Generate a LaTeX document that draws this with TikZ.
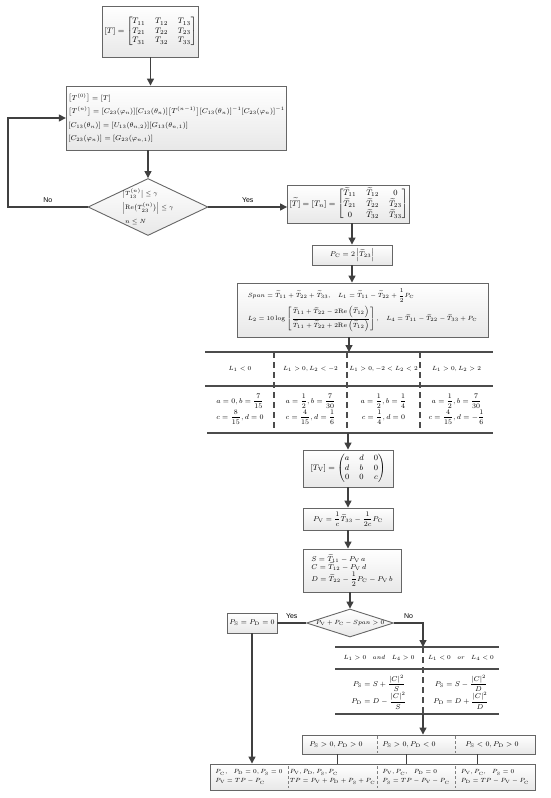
\documentclass[tikz,border=0pt]{standalone}
\usepackage{amsmath}
\usepackage{amssymb}
\usepackage{fontspec}
\newfontfamily\lblfont{Liberation Sans}
\usetikzlibrary{shapes.geometric,arrows.meta}
\newcommand{\tT}[1]{\widetilde{T}_{#1}}
\newcommand{\Pm}[1]{P_{\mathrm{#1}}}

\begin{document}
\begin{tikzpicture}[x=1pt,y=-1pt,font=\scriptsize]
	\tikzstyle{box}=[draw=gray!80!black,line width=0.9pt,top color=white,bottom color=gray!18,inner sep=2pt]
	\tikzstyle{decision}=[draw=gray!80!black,line width=0.9pt,shape=diamond,top color=white,bottom color=gray!18,inner sep=0pt]
	\tikzstyle{arr}=[draw=black!75,line width=1.3pt,-{Triangle[width=7pt,length=7pt]}]
	\tikzstyle{link}=[draw=black!75,line width=1.3pt]
	\tikzstyle{rule}=[draw=black!70,line width=1.1pt]
	\tikzstyle{sep}=[draw=black!70,line width=1.1pt,dash pattern=on 6pt off 4pt]
	\tikzstyle{cellsep}=[draw=gray,line width=0.6pt,dash pattern=on 3pt off 2pt]
	\tikzstyle{lbl}=[font=\lblfont\scriptsize]
	\tikzstyle{small}=[font=\fontsize{6.5}{9}\selectfont]

	\useasboundingbox (0,0) rectangle (550,798);

	\node[box,minimum width=95pt,minimum height=51pt,font=\footnotesize](T) at (150.5,31.5){$[T]=\begin{bmatrix}T_{11}&T_{12}&T_{13}\\T_{21}&T_{22}&T_{23}\\T_{31}&T_{32}&T_{33}\end{bmatrix}$};

	\node[box,minimum width=173pt,minimum height=64pt,align=left,font=\fontsize{6.6}{13.5}\selectfont](iter) at (176.5,118){$\bigl[T^{(0)}\bigr]=[T]$\\
		$\bigl[T^{(n)}\bigr]=[C_{23}(\varphi_n)][C_{13}(\theta_n)]\bigl[T^{(n-1)}\bigr][C_{13}(\theta_n)]^{-1}[C_{23}(\varphi_n)]^{-1}$\\
		$[C_{13}(\theta_n)]=[U_{13}(\theta_{n,2})][G_{13}(\theta_{n,1})]$\\
		$[C_{23}(\varphi_n)]=[G_{23}(\varphi_{n,1})]$};

	\node[decision,minimum width=120pt,minimum height=57pt,label={[align=left,font=\fontsize{6.5}{14}\selectfont]center:{$\bigl|T_{13}^{(n)}\bigr|\le\gamma$\\ $\Bigl|\mathrm{Re}\bigl(T_{23}^{(n)}\bigr)\Bigr|\le\gamma$\\ \ $n\le N$}}](dec1) at (148,207){};

	\node[box,minimum width=111pt,minimum height=38pt,font=\footnotesize](Tn) at (348.5,204){$[\widetilde{T}]=[T_n]=\begin{bmatrix}\tT{11}&\tT{12}&0\\\tT{21}&\tT{22}&\tT{23}\\0&\tT{32}&\tT{33}\end{bmatrix}$};

	\node[box,minimum width=80pt,minimum height=20pt](Pc) at (352,255){$\Pm{C}=2\left|\tT{23}\right|$};

	\node[box,minimum width=251pt,minimum height=54pt,align=left,font=\fontsize{6.4}{9}\selectfont](span) at (362.5,310){$Span=\tT{11}+\tT{22}+\tT{33},\quad L_1=\tT{11}-\tT{22}+\dfrac{1}{2}\Pm{C}$\\[3pt]
		$L_2=10\log\left[\dfrac{\tT{11}+\tT{22}-2\mathrm{Re}\left(\tT{12}\right)}{\tT{11}+\tT{22}+2\mathrm{Re}\left(\tT{12}\right)}\right],\quad L_4=\tT{11}-\tT{22}-\tT{33}+\Pm{C}$};

	\coordinate (tab1top) at (349,352);
	\coordinate (tab1bot) at (348,433);
	\draw[rule] (205,352) -- (493,352);
	\draw[rule] (205,386) -- (493,386);
	\draw[rule] (207,433) -- (493,433);
	\foreach \x in {274,347,420}
		\draw[sep] (\x,352) -- (\x,433);

	\node[small](h1) at (240,369){$L_1<0$};
	\node[small](h2) at (310.5,369){$L_1>0,L_2<-2$};
	\node[small](h3) at (383.5,369){$L_1>0,-2<L_2<2$};
	\node[small](h4) at (456.5,369){$L_1>0,L_2>2$};

	\node[align=center](v1) at (240,409){$a=0,b=\dfrac{7}{15}$\\ $c=\dfrac{8}{15},d=0$};
	\node[align=center](v2) at (310.5,409){$a=\dfrac{1}{2},b=\dfrac{7}{30}$\\ $c=\dfrac{4}{15},d=\dfrac{1}{6}$};
	\node[align=center](v3) at (383.5,409){$a=\dfrac{1}{2},b=\dfrac{1}{4}$\\ $c=\dfrac{1}{4},d=0$};
	\node[align=center](v4) at (456.5,409){$a=\dfrac{1}{2},b=\dfrac{7}{30}$\\ $c=\dfrac{4}{15},d=-\dfrac{1}{6}$};

	\node[box,minimum width=90pt,minimum height=37pt,font=\footnotesize](Tv) at (348,468.5){$[T_{\mathrm{V}}]=\begin{pmatrix}a&d&0\\d&b&0\\0&0&c\end{pmatrix}$};

	\node[box,minimum width=90pt,minimum height=22pt](Pv) at (348,519){$\Pm{V}=\dfrac{1}{c}\tT{33}-\dfrac{1}{2c}\Pm{C}$};

	\node[box,minimum width=98pt,minimum height=43pt,align=left](SCD) at (352,570.5){$S=\tT{11}-\Pm{V}\,a$\\ $C=\tT{12}-\Pm{V}\,d$\\ $D=\tT{22}-\dfrac{1}{2}\Pm{C}-\Pm{V}\,b$};

	\node[decision,minimum width=87pt,minimum height=28pt,label={[small]center:{$\Pm{V}+\Pm{C}-Span>0$}}](dec2) at (350,623){};

	\node[box,minimum width=50pt,minimum height=20pt](PsPd) at (252,623){$\Pm{S}=\Pm{D}=0$};

	\coordinate (tab2top) at (423,647);
	\coordinate (tab2bot) at (423,714);
	\draw[rule] (335,647) -- (499,647);
	\draw[rule] (335,669) -- (499,669);
	\draw[rule] (335,714) -- (499,714);
	\draw[sep] (tab2top) -- (tab2bot);

	\node[small](g1) at (379,658){$L_1>0\quad and\quad L_4>0$};
	\node[small](g2) at (461,658){$L_1<0\quad or\quad L_4<0$};
	\node[align=center](w1) at (379,692){$\Pm{S}=S+\dfrac{|C|^2}{S}$\\ $\Pm{D}=D-\dfrac{|C|^2}{S}$};
	\node[align=center](w2) at (461,692){$\Pm{S}=S-\dfrac{|C|^2}{D}$\\ $\Pm{D}=D+\dfrac{|C|^2}{D}$};

	\node[box,minimum width=233pt,minimum height=19pt](cases) at (418.5,744.5){};
	\draw[cellsep] (377,736) -- (377,753);
	\draw[cellsep] (455,736) -- (455,753);
	\node(c1) at (336,744.5){$\Pm{S}>0,\Pm{D}>0$};
	\node(c2) at (409,744.5){$\Pm{S}>0,\Pm{D}<0$};
	\node(c3) at (492,744.5){$\Pm{S}<0,\Pm{D}>0$};

	\node[box,minimum width=325pt,minimum height=26pt](fin) at (372.5,777){};
	\draw[cellsep] (288,766) -- (288,788);
	\draw[cellsep] (377,766) -- (377,788);
	\draw[cellsep] (455,766) -- (455,788);
	\node[align=left,small](f1) at (249,777){$\Pm{C},\ \ \Pm{D}=0,\Pm{S}=0$\\ $\Pm{V}=TP-\Pm{C}$};
	\node[align=left,small](f2) at (332.5,777){$\Pm{V},\Pm{D},\Pm{S},\Pm{C}$\\ $TP=\Pm{V}+\Pm{D}+\Pm{S}+\Pm{C}$};
	\node[align=left,small](f3) at (416,777){$\Pm{V},\Pm{C},\ \ \Pm{D}=0$\\ $\Pm{S}=TP-\Pm{V}-\Pm{C}$};
	\node[align=left,small](f4) at (495,777){$\Pm{V},\Pm{C},\ \ \Pm{S}=0$\\ $\Pm{D}=TP-\Pm{V}-\Pm{C}$};

	\coordinate (loop) at (8,207);
	\coordinate (k1) at (337,754);
	\coordinate (k2) at (406,754);
	\coordinate (k3) at (477,754);

	\draw[arr] (T.south) -- (T.south |- iter.north);
	\draw[arr] (dec1.north |- iter.south) -- (dec1.north);
	\draw[arr] (dec1.west) -- node[lbl,above]{No} (loop) |- (iter.west);
	\draw[arr] (dec1.east) -- node[lbl,above]{Yes} (dec1.east -| Tn.west);
	\draw[arr] (Pc.north |- Tn.south) -- (Pc.north);
	\draw[arr] (Pc.south) -- (Pc.south |- span.north);
	\draw[arr] (span.south -| tab1top) -- (tab1top);
	\draw[arr] (tab1bot) -- (Tv.north);
	\draw[arr] (Tv.south) -- (Pv.north);
	\draw[arr] (Pv.south) -- (Pv.south |- SCD.north);
	\draw[arr] (dec2.north |- SCD.south) -- (dec2.north);
	\draw[link] (dec2.west) -- node[lbl,above]{Yes} (PsPd.east);
	\draw[arr] (dec2.east) -- node[lbl,above]{No} (dec2.east -| tab2top) -- (tab2top);
	\draw[arr] (PsPd.south) -- (PsPd.south |- fin.north);
	\draw[arr] (tab2bot) -- (tab2bot |- cases.north);
	\draw[link,line width=1pt] (k1) -- (k1 |- fin.north);
	\draw[link,line width=1pt] (k2) -- (k2 |- fin.north);
	\draw[link,line width=1pt] (k3) -- (k3 |- fin.north);

\end{tikzpicture}
\end{document}
